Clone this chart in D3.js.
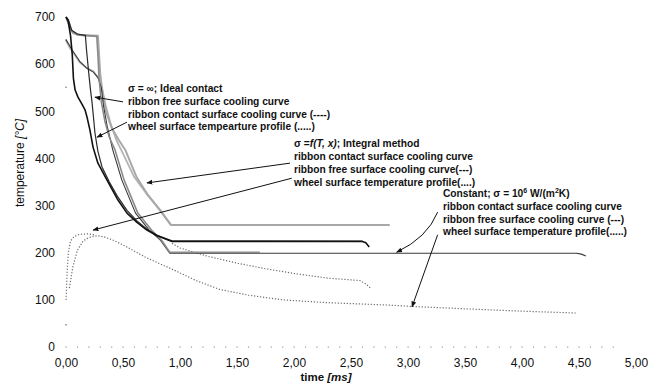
<!DOCTYPE html>
<html>
<head>
<meta charset="utf-8">
<script src="https://cdn.jsdelivr.net/npm/d3@7"></script>
<style>
  html, body { margin: 0; padding: 0; background: #fff; }
  svg { display: block; font-family: "Liberation Sans", Arial, sans-serif; }
</style>
</head>
<body>
<svg id="chart" width="659" height="385"></svg>
<script>
// ─── Data (time in ms, temperature in °C) ───────────────────

const xTickValues = [0, 0.5, 1, 1.5, 2, 2.5, 3, 3.5, 4, 4.5, 5];
const yTickValues = [0, 100, 200, 300, 400, 500, 600, 700];

// ribbon curves, dark pair (end on the ~224 °C plateau)
const darkA = [[0,700],[0.02,690],[0.04,660],[0.055,620],[0.065,570],[0.08,545],[0.105,530],[0.14,515],[0.167,503],[0.184,488],[0.21,460],[0.237,424],[0.28,390],[0.36,354],[0.45,314],[0.535,284],[0.62,265],[0.71,248],[0.8,236],[0.93,224],[2.6,224],[2.63,221],[2.66,212]];
const darkB = [[0,700],[0.02,694],[0.05,672],[0.1,664],[0.17,661],[0.18,630],[0.2,580],[0.215,545],[0.228,520],[0.24,490],[0.254,454],[0.28,415],[0.316,382],[0.38,350],[0.45,320],[0.535,290],[0.62,268],[0.71,250],[0.8,237],[0.93,225],[2.6,224]];

// ribbon curves, grey pair (end on the ~200 °C plateau)
const greyLong = [[0,652],[0.03,640],[0.06,628],[0.12,606],[0.18,592],[0.24,583],[0.28,572],[0.31,550],[0.33,510],[0.36,470],[0.41,418],[0.49,354],[0.61,284],[0.73,248],[0.83,226],[0.91,199],[4.48,199],[4.52,197],[4.56,193]];
const greyShort = [[0,700],[0.02,694],[0.05,670],[0.1,662],[0.27,659],[0.28,620],[0.29,570],[0.31,520],[0.34,480],[0.38,445],[0.43,418],[0.51,354],[0.63,284],[0.75,248],[0.84,226],[0.91,201],[1.7,201]];

// ribbon curves, light pair (end on the ~259 °C plateau)
const lightA = [[0,700],[0.03,680],[0.06,666],[0.12,662],[0.28,660],[0.29,620],[0.3,580],[0.32,540],[0.35,500],[0.4,465],[0.46,440],[0.52,418],[0.62,360],[0.72,322],[0.825,291],[0.92,259],[2.84,259]];
const lightB = [[0,650],[0.03,636],[0.07,622],[0.12,604],[0.18,592],[0.24,585],[0.29,568],[0.32,545],[0.35,510],[0.39,475],[0.44,440],[0.5,410],[0.6,360],[0.7,327],[0.8,297],[0.92,259]];

// wheel surface curves (dotted)
const wheelA = [[0,100],[0.01,160],[0.02,200],[0.04,225],[0.07,234],[0.12,239],[0.2,240],[0.26,237]];
const wheelB = [[0.03,125],[0.06,170],[0.1,205],[0.15,225],[0.2,232],[0.27,236],[0.33,234],[0.42,226],[0.535,212],[0.7,190],[0.94,164],[1.15,140],[1.35,122],[1.6,110],[1.9,100],[2.3,94],[2.82,89],[3.04,86],[3.5,81],[4.0,76],[4.48,72]];
const wheelC = [[0.93,220],[1.0,210],[1.25,192],[1.5,178],[1.75,166],[2.0,156],[2.3,146],[2.58,141],[2.63,134],[2.67,125]];
const startDots = [[0,651],[0,551],[0,47]];

// annotation blocks; "|" toggles italic, "^" toggles superscript
const labelIdeal = ["σ = ∞; Ideal contact", "ribbon free surface cooling curve", "ribbon contact surface cooling curve (----)", "wheel surface tempearture profile (.....)"];
const labelIntegral = ["σ =|f(T, x)|; Integral method", "ribbon contact surface cooling curve", "ribbon free surface cooling curve(---)", "wheel surface temperature  profile(....)"];
const labelConstant = ["Constant; σ = 10^6^ W/(m^2^K)", "ribbon contact surface cooling curve", "ribbon free surface cooling curve (---)", "wheel surface temperature  profile(.....)"];
const labelAnchors = [[0.544, 541], [2.0, 424], [3.307, 318]];

// arrows: [from, to, optional control] in [t, T]
const arrows = [
  [[0.5, 520], [0.254, 530]],
  [[0.535, 477], [0.272, 445]],
  [[1.965, 390], [0.71, 348]],
  [[1.98, 358], [0.237, 248]],
  [[3.26, 286], [2.9, 201], [3.17, 232]],
  [[3.26, 238], [3.035, 85]]
];

// ─── Layout ─────────────────────────────────────────────────

const svg = d3.select("#chart");
const x = d3.scaleLinear().domain([0, 5]).range([66, 636]);
const y = d3.scaleLinear().domain([0, 700]).range([347, 17]);
const line = d3.line().x(d => x(d[0])).y(d => y(d[1]));

svg.append("rect").attr("width", 659).attr("height", 385).attr("fill", "#fff");

// dotted x baseline
svg.append("g")
  .selectAll("rect")
  .data(d3.range(0, 4.85, 0.1))
  .join("rect")
  .attr("x", d => x(d) - 0.5)
  .attr("y", y(0) - 0.5)
  .attr("width", 1.2)
  .attr("height", 1.2)
  .attr("fill", "#999");

// axes (labels only)
const yAxis = svg.append("g")
  .attr("transform", `translate(${x(0)},0)`)
  .call(d3.axisLeft(y).tickValues(yTickValues).tickSize(0).tickPadding(11));
yAxis.select(".domain").remove();

const xAxis = svg.append("g")
  .attr("transform", `translate(0,${y(0)})`)
  .call(d3.axisBottom(x).tickValues(xTickValues).tickSize(0).tickPadding(11)
    .tickFormat(d => d.toFixed(2).replace(".", ",")));
xAxis.select(".domain").remove();

svg.selectAll(".tick text")
  .attr("font-size", 12)
  .attr("font-family", "'Liberation Sans', Arial, sans-serif")
  .attr("fill", "#111");

// axis titles
const yTitle = svg.append("text")
  .attr("transform", "translate(24,163) rotate(-90)")
  .attr("text-anchor", "middle")
  .attr("font-size", 12)
  .attr("fill", "#111");
yTitle.append("tspan").text("temperature ");
yTitle.append("tspan").attr("font-style", "italic").text("[°C]");

const xTitle = svg.append("text")
  .attr("x", 326).attr("y", 381)
  .attr("text-anchor", "middle")
  .attr("font-size", 11.5)
  .attr("font-weight", "bold")
  .attr("fill", "#111");
xTitle.append("tspan").text("time ");
xTitle.append("tspan").attr("font-style", "italic").text("[ms]");

// ─── Curves ─────────────────────────────────────────────────

const dotted = [wheelA, wheelB, wheelC];
svg.append("g")
  .selectAll("path")
  .data(dotted)
  .join("path")
  .attr("d", line)
  .attr("fill", "none")
  .attr("stroke", "#6a6a6a")
  .attr("stroke-width", 1.2)
  .attr("stroke-dasharray", "1.2,1.8");

svg.append("g")
  .selectAll("circle")
  .data(startDots)
  .join("circle")
  .attr("cx", d => x(d[0]))
  .attr("cy", d => y(d[1]))
  .attr("r", 0.8)
  .attr("fill", "#777");

const solid = [
  { pts: lightB, color: "#b4b4b4", w: 1.8 },
  { pts: lightA, color: "#a8a8a8", w: 2 },
  { pts: greyLong, color: "#3a3a3a", w: 1.1 },
  { pts: greyShort, color: "#8a8a8a", w: 1.6 },
  { pts: darkB, color: "#2a2a2a", w: 1.2 },
  { pts: darkA, color: "#111", w: 1.6 }
];
svg.append("g")
  .selectAll("path")
  .data(solid)
  .join("path")
  .attr("d", d => line(d.pts))
  .attr("fill", "none")
  .attr("stroke", d => d.color)
  .attr("stroke-width", d => d.w)
  .attr("stroke-linejoin", "round");

// ─── Annotations ────────────────────────────────────────────

svg.append("defs").append("marker")
  .attr("id", "head")
  .attr("viewBox", "0 0 10 10")
  .attr("refX", 9).attr("refY", 5)
  .attr("markerWidth", 6).attr("markerHeight", 6)
  .attr("markerUnits", "userSpaceOnUse")
  .attr("orient", "auto")
  .append("path")
  .attr("d", "M0,1L10,5L0,9Z")
  .attr("fill", "#111");

svg.append("g")
  .selectAll("path")
  .data(arrows)
  .join("path")
  .attr("d", d => d[2]
    ? `M${x(d[0][0])},${y(d[0][1])}Q${x(d[2][0])},${y(d[2][1])} ${x(d[1][0])},${y(d[1][1])}`
    : `M${x(d[0][0])},${y(d[0][1])}L${x(d[1][0])},${y(d[1][1])}`)
  .attr("fill", "none")
  .attr("stroke", "#111")
  .attr("stroke-width", 1)
  .attr("marker-end", "url(#head)");

const blocks = [labelIdeal, labelIntegral, labelConstant];
blocks.forEach((lines, bi) => {
  const [t0, T0] = labelAnchors[bi];
  const txt = svg.append("text")
    .attr("font-size", 10.2)
    .attr("font-weight", "bold")
    .attr("fill", "#111");
  lines.forEach((s, i) => {
    const baseY = y(T0) + i * 12.8;
    // split on markers, keep them to toggle styles
    const tokens = s.split(/([|^])/);
    let italic = false, sup = false, first = true;
    tokens.forEach(tok => {
      if (tok === "|") { italic = !italic; return; }
      if (tok === "^") { sup = !sup; return; }
      if (!tok) return;
      const ts = txt.append("tspan").text(tok);
      if (first) { ts.attr("x", x(t0)); first = false; }
      ts.attr("y", sup ? baseY - 4 : baseY);
      if (italic) ts.attr("font-style", "italic");
      if (sup) ts.attr("font-size", 7);
    });
  });
});
</script>
</body>
</html>
